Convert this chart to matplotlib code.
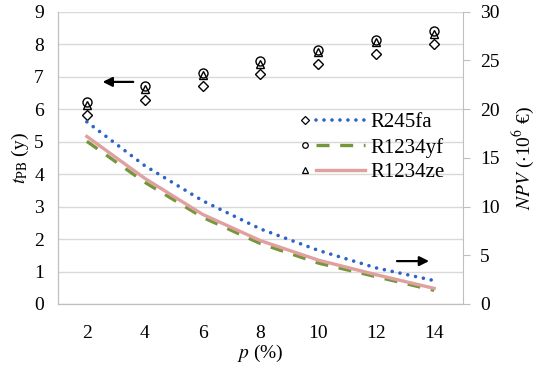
import numpy as np
import matplotlib
matplotlib.use('Agg')
import matplotlib.pyplot as plt
from matplotlib.lines import Line2D
from matplotlib.legend_handler import HandlerBase

plt.rcParams['font.family'] = ['Liberation Serif', 'DejaVu Serif']
plt.rcParams['mathtext.fontset'] = 'stix'

p = [2, 4, 6, 8, 10, 12, 14]

# payback time (y), left axis
tpb_245fa = [5.82, 6.28, 6.70, 7.08, 7.40, 7.70, 8.00]
tpb_1234yf = [6.22, 6.70, 7.12, 7.48, 7.83, 8.14, 8.41]
tpb_1234ze = [6.14, 6.62, 7.04, 7.40, 7.75, 8.06, 8.33]

# NPV (1e6 EUR), right axis
npv_245fa = [18.7, 14.2, 10.6, 7.7, 5.5, 3.7, 2.4]
npv_1234yf = [16.7, 12.5, 8.9, 6.2, 4.2, 2.8, 1.4]
npv_1234ze = [17.2, 12.9, 9.2, 6.5, 4.5, 3.0, 1.6]

names = ['R245fa', 'R1234yf', 'R1234ze']

c_blue = '#2e63c6'
c_green = '#75963a'
c_pink = '#e0a0a0'
c_grid = '#d9d9d9'
c_spine = '#bfbfbf'


class MarkerLine(HandlerBase):
    # excel-like legend entry: marker on the left, line sample on the right
    def create_artists(self, legend, orig_handle, xdescent, ydescent,
                       width, height, fontsize, trans):
        mk, ln = orig_handle
        y = height / 2 - ydescent
        x0 = -xdescent
        m = Line2D([x0 + 0.07 * width], [y], marker=mk.get_marker(),
                   markersize=4, mfc='white', mec='black', mew=0.9, ls='none')
        l = Line2D([], [])
        l.update_from(ln)
        l.set_data([x0 + 0.24 * width, x0 + width], [y, y])
        m.set_transform(trans)
        l.set_transform(trans)
        return [m, l]


fig = plt.figure(figsize=(5.36, 3.68), dpi=100)
ax1 = fig.add_axes([0.108, 0.174, 0.756, 0.794])
ax2 = ax1.twinx()

mk1, = ax1.plot(p, tpb_245fa, ls='none', marker='D', ms=5.5, mfc='white', mec='black', mew=1.0, zorder=5)
mk2, = ax1.plot(p, tpb_1234yf, ls='none', marker='o', ms=6.5, mfc='none', mec='black', mew=1.0, zorder=5)
mk3, = ax1.plot(p, tpb_1234ze, ls='none', marker='^', ms=6, mfc='none', mec='black', mew=1.0, zorder=5)

ln1, = ax2.plot(p, npv_245fa, color=c_blue, lw=2.6, ls=(0, (0.01, 2.2)), dash_capstyle='round')
ln2, = ax2.plot(p, npv_1234yf, color=c_green, lw=2.4, ls=(0, (3.9, 3.2)))
ln3, = ax2.plot(p, npv_1234ze, color=c_pink, lw=2.4)

ax1.set_xlim(1, 15)
ax1.set_ylim(0, 9)
ax2.set_ylim(0, 30)
ax1.set_xticks(p)
ax1.set_yticks(range(0, 10))
ax2.set_yticks(range(0, 31, 5))

ax1.yaxis.grid(True, color=c_grid, lw=1.0)
ax1.set_axisbelow(True)

for a in (ax1, ax2):
    a.spines['top'].set_visible(False)
    for s in ('left', 'right', 'bottom'):
        a.spines[s].set_color(c_spine)
ax1.spines['right'].set_visible(False)

ax1.tick_params(axis='both', length=0, labelsize=14, pad=10)
ax1.tick_params(axis='x', pad=15)
ax2.tick_params(axis='y', length=5, color=c_spine, labelsize=14, pad=7)

ax1.set_xlabel('$p$ (%)', fontsize=14, labelpad=1)
ax1.set_ylabel(r'$t_{\mathrm{PB}}$ (y)', fontsize=14, labelpad=2)
ax2.set_ylabel(r'$NPV$ ($\cdot$10$^6$ €)', fontsize=14, labelpad=8)

# direction arrows
ax1.annotate('', xy=(2.45, 6.84), xytext=(3.7, 6.84),
             arrowprops=dict(arrowstyle='-|>', color='black', lw=1.6, mutation_scale=14))
ax1.annotate('', xy=(13.92, 1.32), xytext=(12.62, 1.32),
             arrowprops=dict(arrowstyle='-|>', color='black', lw=1.6, mutation_scale=14))

ax1.legend([(mk1, ln1), (mk2, ln2), (mk3, ln3)], names,
           handler_map={tuple: MarkerLine()},
           loc='center left', bbox_to_anchor=(0.598, 0.535),
           frameon=False, fontsize=15, handlelength=3.1, handletextpad=0.25,
           labelspacing=0.25, borderpad=0, borderaxespad=0)

fig.savefig('out.png', dpi=100)
